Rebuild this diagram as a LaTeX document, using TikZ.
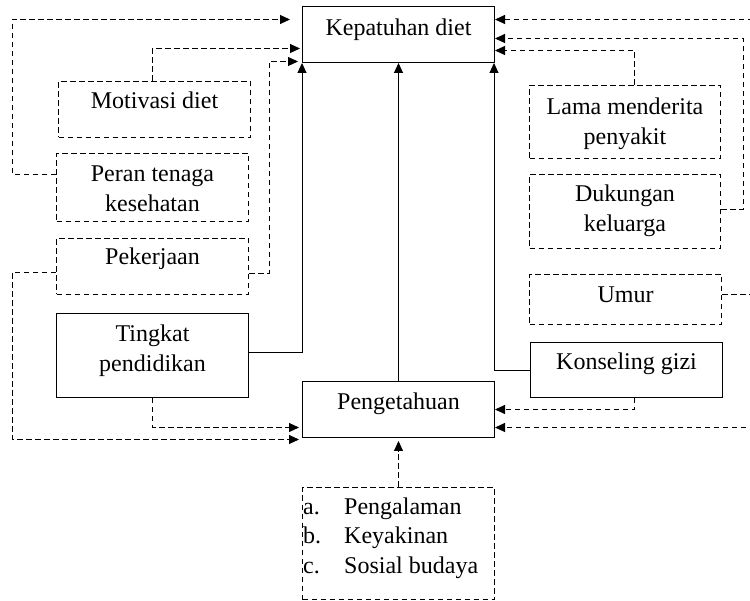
\documentclass[tikz,border=0pt]{standalone}
\usepackage{fontspec}
\setmainfont{Liberation Serif}
\usetikzlibrary{arrows.meta}
\begin{document}
\begin{tikzpicture}[x=1pt,y=-1pt,
  bx/.style={draw, line width=1pt, anchor=north west, inner sep=0pt, minimum width=192pt},
  dbx/.style={bx, dash pattern=on 5.5pt off 3.5pt},
  lbl/.style={anchor=base, align=center, inner sep=0pt, font=\fontsize{24}{30}\selectfont},
  arr/.style={line width=1pt, -{Triangle[length=10pt,width=9pt]}},
  darr/.style={arr, dash pattern=on 5.5pt off 3.5pt}]
\useasboundingbox (0,0) rectangle (750,601);
% boxes
\node[bx,  minimum height=56pt] (kep)  at (302,6)   {};
\node[dbx, minimum height=56pt] (mot)  at (58,81)   {};
\node[dbx, minimum height=68pt] (per)  at (56,153)  {};
\node[dbx, minimum height=56pt] (pek)  at (56,238)  {};
\node[bx,  minimum height=84pt] (ting) at (56,313)  {};
\node[bx,  minimum height=56pt] (peng) at (302,381) {};
\node[dbx, minimum height=112pt] (abc) at (302,487) {};
\node[dbx, minimum height=73pt, minimum width=191pt] (lama) at (529,85)  {};
\node[dbx, minimum height=74pt, minimum width=191pt] (duk)  at (529,174) {};
\node[dbx, minimum height=50pt] (umur) at (529,274) {};
\node[bx,  minimum height=55pt] (kons) at (530,342) {};
% labels (base anchor = baseline of the last line)
\node[lbl] (kepT)  at ([yshift=-30pt]kep.north)  {Kepatuhan diet};
\node[lbl] (motT)  at ([yshift=-28pt]mot.north)  {Motivasi diet};
\node[lbl] (perT)  at ([yshift=-59pt]per.north)  {Peran tenaga\\kesehatan};
\node[lbl] (pekT)  at ([yshift=-27pt]pek.north)  {Pekerjaan};
\node[lbl] (tingT) at ([yshift=-59pt]ting.north) {Tingkat\\pendidikan};
\node[lbl] (pengT) at ([yshift=-29pt]peng.north) {Pengetahuan};
\node[lbl] (lamaT) at ([yshift=-60pt]lama.north) {Lama menderita\\penyakit};
\node[lbl] (dukT)  at ([yshift=-58pt]duk.north)  {Dukungan\\keluarga};
\node[lbl] (umurT) at ([yshift=-29pt]umur.north) {Umur};
\node[lbl] (konsT) at ([yshift=-28pt]kons.north) {Konseling gizi};
\node[lbl, anchor=base west, align=left, font=\fontsize{24}{29.5}\selectfont] (abcT) at ([xshift=1pt,yshift=-86pt]abc.north west)
  {\makebox[41pt][l]{a.}Pengalaman\\\makebox[41pt][l]{b.}Keyakinan\\\makebox[41pt][l]{c.}Sosial budaya};
% solid connectors
\draw[arr] ([yshift=3pt]ting.east) -| (kep.south west);
\draw[arr] (peng.north) -- (kep.south);
\draw[arr] ([yshift=-1pt]kons.west) -| ([xshift=-1pt]kep.south east);
% dashed connectors to Kepatuhan diet
\draw[darr] ([yshift=13pt]per.west) -- ++(-44pt,0) |- ([xshift=-12pt,yshift=15pt]kep.west);
\draw[darr] ([xshift=-2pt]mot.north) |- ([xshift=-2pt,yshift=-14pt]kep.west);
\draw[darr] ([yshift=-7pt]pek.east) -- ++(20pt,0) |- ([xshift=-4pt,yshift=-27pt]kep.west);
\draw[darr] ([yshift=5pt]umur.east) -- ++(40pt,0) |- ([yshift=15pt]kep.east);
\draw[darr] ([yshift=2pt]duk.east) -- ++(22pt,0) |- ([yshift=-4pt]kep.east);
\draw[darr] ([xshift=9.5pt]lama.north) |- ([yshift=-16pt]kep.east);
% dashed connectors to Pengetahuan
\draw[darr] (ting.south) |- ([xshift=-3pt,yshift=-18pt]peng.west);
\draw[darr] ([yshift=-6pt]pek.west) -- ++(-44pt,0) |- ([xshift=-3pt,yshift=-30pt]peng.west);
\draw[darr] ([xshift=8pt]kons.south) |- (peng.east);
\draw[darr] ([yshift=5pt]umur.east) -- ++(40pt,0) |- ([yshift=-18pt]peng.east);
\draw[darr] (abc.north) -- ([yshift=-3pt]peng.south);
\end{tikzpicture}
\end{document}
